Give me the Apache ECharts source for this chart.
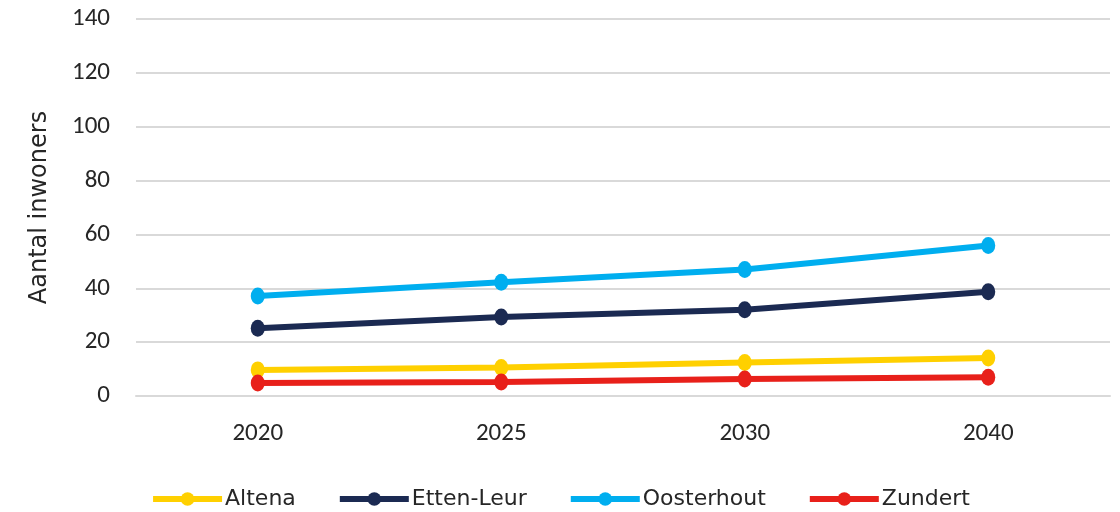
<!DOCTYPE html>
<html>
<head>
<meta charset="utf-8">
<script src="https://cdn.jsdelivr.net/npm/echarts@6/dist/echarts.min.js"></script>
<style>html,body{margin:0;padding:0;background:#fff}#c{width:1120px;height:512px}</style>
</head>
<body>
<div id="c"></div>
<script>
var years = ['2020', '2025', '2030', '2040'];
var altena = [9.7, 10.6, 12.4, 14.1];
var ettenLeur = [25.2, 29.3, 32.0, 38.7];
var oosterhout = [37.1, 42.2, 47.0, 55.9];
var zundert = [4.8, 5.2, 6.3, 7.0];
var yTicks = [0, 20, 40, 60, 80, 100, 120, 140];

var FONT = 'Carlito, Lato, "Open Sans", sans-serif';
var WIDE = '"DejaVu Sans", sans-serif';
function mk(name, data, color) {
  return {
    name: name, type: 'line', data: data,
    symbol: 'circle', symbolSize: [14, 17],
    lineStyle: { width: 6, color: color },
    itemStyle: { color: color },
    emphasis: { disabled: true }
  };
}
var chart = echarts.init(document.getElementById('c'));
chart.setOption({
  animation: false,
  textStyle: { fontFamily: FONT },
  grid: { left: 136, right: 10, top: 19, bottom: 116 },
  legend: {
    top: 483, left: 'center', itemWidth: 69, itemHeight: 17, itemGap: 41,
    lineStyle: { width: 6 },
    textStyle: { fontSize: 22, color: '#262626', fontFamily: WIDE, padding: [0, 0, 0, -2] },
    data: ['Altena', 'Etten-Leur', 'Oosterhout', 'Zundert']
  },
  xAxis: {
    type: 'category', data: years, boundaryGap: true,
    axisLine: { show: true, lineStyle: { color: '#d9d9d9', width: 2 } },
    axisTick: { show: false },
    axisLabel: { fontSize: 25, color: '#262626', margin: 25 }
  },
  yAxis: {
    type: 'value', min: yTicks[0], max: yTicks[yTicks.length - 1], interval: 20,
    name: 'Aantal inwoners', nameLocation: 'middle', nameGap: 84, nameRotate: 90,
    nameTextStyle: { fontSize: 24, color: '#262626', fontFamily: WIDE },
    axisLine: { show: false }, axisTick: { show: false },
    axisLabel: { fontSize: 25, color: '#262626', margin: 26 },
    splitLine: { lineStyle: { color: '#d9d9d9', width: 2 } }
  },
  series: [
    mk('Altena', altena, '#FFD000'),
    mk('Etten-Leur', ettenLeur, '#1B2A52'),
    mk('Oosterhout', oosterhout, '#00AEEF'),
    mk('Zundert', zundert, '#E8201A')
  ]
});
</script>
</body>
</html>
